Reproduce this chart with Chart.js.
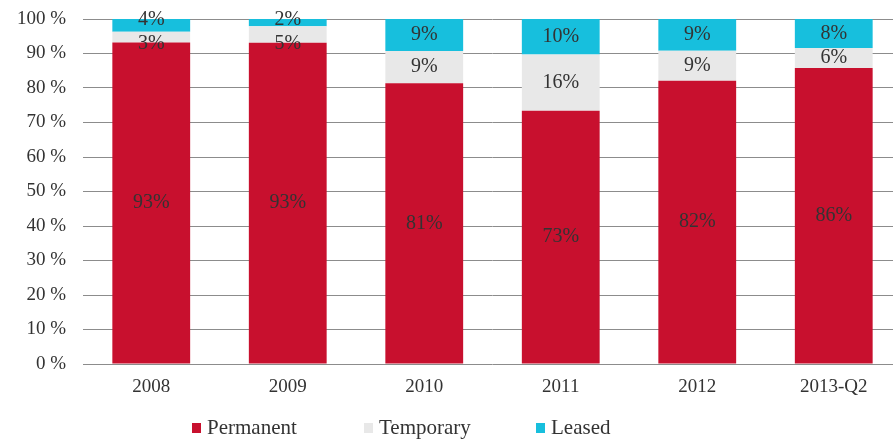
<!DOCTYPE html>
<html>
<head>
<meta charset="utf-8">
<script src="https://cdn.jsdelivr.net/npm/chart.js@4.4.1/dist/chart.umd.min.js"></script>
<style>
  html, body { margin: 0; padding: 0; background: #fff; overflow: hidden; }
  #wrap { width: 893px; height: 441px; overflow: hidden; }
  #box { width: 910px; height: 441px; position: relative; }
</style>
</head>
<body>
<div id="wrap"><div id="box"><canvas id="myChart"></canvas></div></div>
<script>
// categories and series (share of total, %)
const years = ['2008', '2009', '2010', '2011', '2012', '2013-Q2'];
const permanent = [93.2, 93.1, 81.4, 73.4, 82.1, 85.8];
const temporary = [3.1, 4.8, 9.3, 16.3, 8.7, 5.8];
const leased = [3.7, 2.1, 9.3, 10.3, 9.2, 8.4];
const seriesNames = ['Permanent', 'Temporary', 'Leased'];
const seriesColors = ['#C8102E', '#E8E8E8', '#17BFDD'];

const police = 'Liberation Serif, serif';

// etiquettes au centre de chaque segment (petits segments : décalées)
const etiquettes = {
  id: 'etiquettes',
  afterDatasetsDraw(chart) {
    const ctx = chart.ctx;
    ctx.save();
    ctx.font = '20px ' + police;
    ctx.fillStyle = '#333';
    ctx.textAlign = 'center';
    ctx.textBaseline = 'middle';
    chart.data.datasets.forEach(function (ds, i) {
      chart.getDatasetMeta(i).data.forEach(function (bar, j) {
        let y = (bar.y + bar.base) / 2;
        const h = bar.base - bar.y;
        if (h < 18 && i === 1) y = bar.base + 1;
        if (h < 18 && i === 2) y = bar.y + 1;
        ctx.fillText(Math.round(ds.data[j]) + '%', bar.x, y);
      });
    });
    ctx.restore();
  }
};

// légende dessinée à la main (espacement large)
const legende = {
  id: 'legende',
  afterDraw(chart) {
    const ctx = chart.ctx;
    const xs = [192, 364, 536];
    const y = 428;
    ctx.save();
    ctx.font = '21px ' + police;
    ctx.textBaseline = 'middle';
    ctx.textAlign = 'left';
    chart.data.datasets.forEach(function (ds, i) {
      ctx.fillStyle = ds.backgroundColor;
      ctx.fillRect(xs[i], y - 5, 9, 10);
      ctx.fillStyle = '#333';
      ctx.fillText(ds.label, xs[i] + 15, y);
    });
    ctx.restore();
  }
};

new Chart(document.getElementById('myChart'), {
  type: 'bar',
  data: {
    labels: years,
    datasets: [
      { label: seriesNames[0], data: permanent, backgroundColor: seriesColors[0] },
      { label: seriesNames[1], data: temporary, backgroundColor: seriesColors[1] },
      { label: seriesNames[2], data: leased, backgroundColor: seriesColors[2] }
    ]
  },
  options: {
    responsive: true,
    maintainAspectRatio: false,
    animation: false,
    datasets: { bar: { barPercentage: 0.57, categoryPercentage: 1 } },
    layout: { padding: { top: 19, right: 8, bottom: 0, left: 0 } },
    plugins: {
      legend: { display: false },
      tooltip: { enabled: false }
    },
    scales: {
      x: {
        stacked: true,
        grid: { display: false, drawTicks: false },
        border: { display: false },
        ticks: { color: '#333', padding: 12, font: { family: police, size: 19 } },
        afterFit: function (scale) {
          scale.height = 77;
          scale.paddingLeft = 0;
          scale.paddingRight = 0;
        }
      },
      y: {
        stacked: true,
        min: 0,
        max: 100,
        ticks: {
          stepSize: 10,
          color: '#333',
          padding: 17,
          font: { family: police, size: 19 },
          callback: function (v) { return v + ' %'; }
        },
        grid: { color: '#8c8c8c', lineWidth: 1, drawTicks: false },
        border: { display: false },
        afterFit: function (scale) {
          scale.width = 83;
          scale.paddingTop = 0;
          scale.paddingBottom = 0;
        }
      }
    }
  },
  plugins: [etiquettes, legende]
});
</script>
</body>
</html>
